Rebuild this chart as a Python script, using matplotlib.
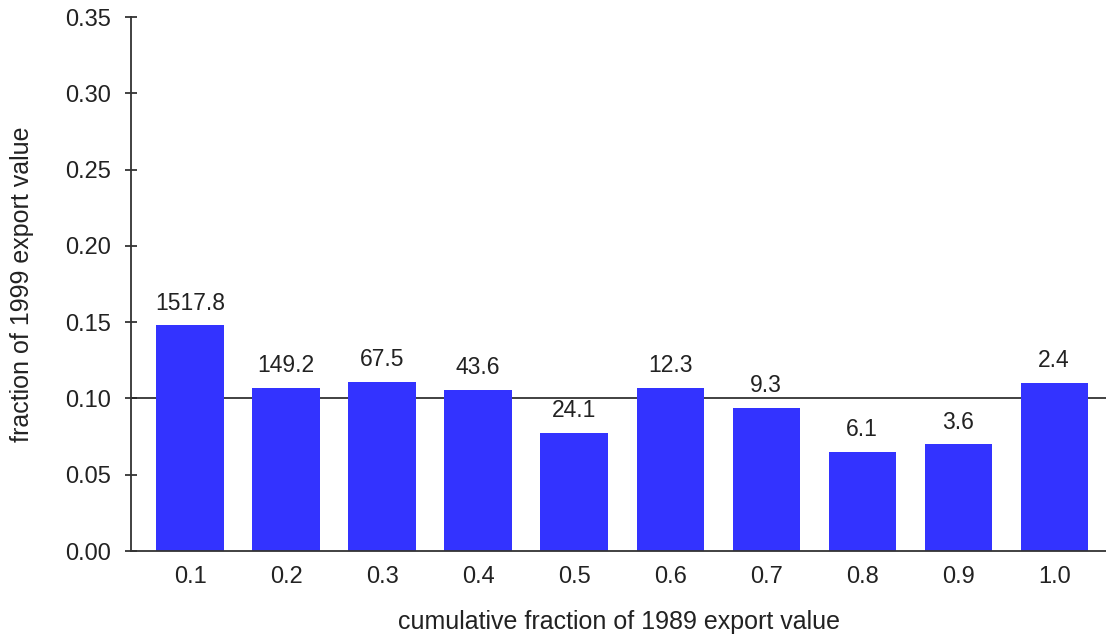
import matplotlib
matplotlib.use("Agg")
import matplotlib.pyplot as plt
import numpy as np

categories = ["0.1", "0.2", "0.3", "0.4", "0.5", "0.6", "0.7", "0.8", "0.9", "1.0"]
fractions = [0.148, 0.107, 0.111, 0.1055, 0.0775, 0.107, 0.094, 0.065, 0.070, 0.110]
bar_labels = ["1517.8", "149.2", "67.5", "43.6", "24.1", "12.3", "9.3", "6.1", "3.6", "2.4"]
reference_level = 0.10

plt.rcParams['font.family'] = ['Liberation Sans', 'DejaVu Sans']

fig = plt.figure(figsize=(11.06, 6.39), dpi=100)
ax = fig.add_axes([131/1106, 1-551/639, (1106-131)/1106, (551-17)/639])

x = np.arange(len(categories))
ax.axhline(reference_level, color='#333333', lw=1.3, zorder=1)
ax.bar(x, fractions, width=0.7, color='#3333ff', zorder=2)
for xi, h, lab in zip(x, fractions, bar_labels):
    ax.text(xi, h + 0.007, lab, ha='center', va='bottom', fontsize=16.5, color='#222222')

ax.set_xlim(-0.615, 9.54)
ax.set_ylim(0, 0.35)
ax.set_yticks(np.arange(0, 0.351, 0.05))
ax.set_yticklabels([f"{v:.2f}" for v in np.arange(0, 0.351, 0.05)])
ax.set_xticks(x)
ax.set_xticklabels(categories)
ax.tick_params(axis='y', direction='inout', length=9, width=1.2, labelsize=17, colors='#222222', pad=10)
ax.tick_params(axis='x', length=0, labelsize=17, colors='#222222', pad=11)
for s in ['top', 'right']:
    ax.spines[s].set_visible(False)
ax.spines['left'].set_color('#333333')
ax.spines['left'].set_linewidth(1.3)
ax.spines['bottom'].set_color('#333333')
ax.spines['bottom'].set_linewidth(1.3)

ax.set_xlabel("cumulative fraction of 1989 export value", fontsize=18, color='#222222', labelpad=16)
ax.set_ylabel("fraction of 1999 export value", fontsize=18, color='#222222', labelpad=22)

fig.savefig("out.png", dpi=100)
